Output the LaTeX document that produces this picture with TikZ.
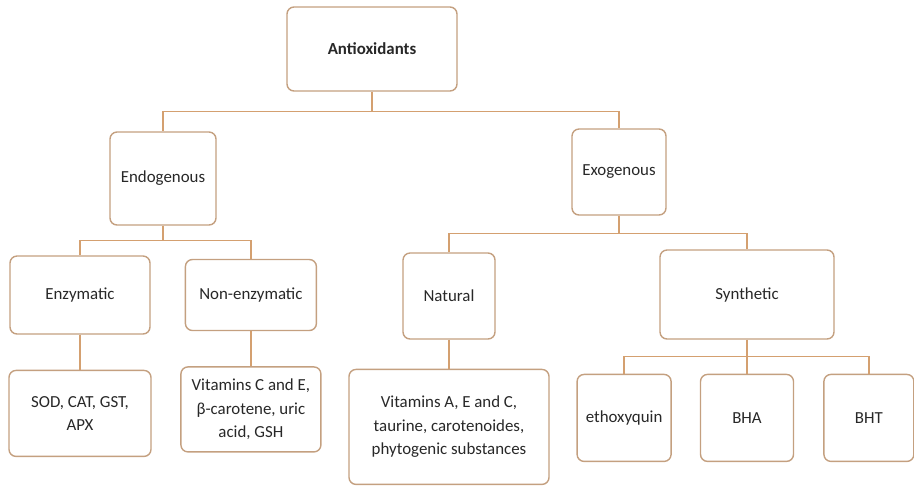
\documentclass[tikz,border=0pt]{standalone}
\usepackage{fontspec}
\setmainfont{Carlito}
\usepackage{xcolor}
\usepackage{tikz}
\usetikzlibrary{positioning}

\definecolor{boxline}{RGB}{196,160,128}
\definecolor{linkline}{RGB}{212,160,112}
\definecolor{boxtext}{RGB}{40,40,40}

\begin{document}
\begin{tikzpicture}[
    box/.style={rectangle, draw=boxline, line width=0.8pt, fill=white, rounded corners=4pt,
      text=boxtext, align=center, inner sep=2pt, font=\fontsize{9.6}{13.3}\selectfont},
    line/.style={draw=linkline, line width=0.8pt}
]
\useasboundingbox (0,0) rectangle (18.28,-9.72);

% Levels 0 and 1
\node[box, minimum width=3.4cm, minimum height=1.68cm, font=\fontsize{9.6}{13.3}\selectfont\bfseries] (root) at (7.44,-0.98) {Antioxidants};
\node[box, minimum width=2.12cm, minimum height=1.86cm] (endo) at (3.26,-3.57) {Endogenous};
\node[box, minimum width=1.88cm, minimum height=1.72cm] (exo) at (12.38,-3.44) {Exogenous};

% Level 2
\node[box, minimum width=2.8cm, minimum height=1.56cm] (enz) at (1.6,-5.9) {Enzymatic};
\node[box, minimum width=2.62cm, minimum height=1.42cm, right=0.68cm of enz] (nonenz) {Non-enzymatic};
\node[box, minimum width=1.84cm, minimum height=1.72cm] (nat) at (8.98,-5.92) {Natural};
\node[box, minimum width=3.48cm, minimum height=1.78cm] (syn) at (14.94,-5.89) {Synthetic};

% Level 3
\node[box, minimum width=2.84cm, minimum height=1.72cm, below=0.7cm of enz] (sod) {SOD, CAT, GST,\\APX};
\node[box, minimum width=2.8cm, minimum height=1.7cm, below=0.7cm of nonenz] (vitce) {Vitamins C and E,\\β-carotene, uric\\acid, GSH};
\node[box, minimum width=4cm, minimum height=2.3cm, below=0.58cm of nat] (vitaec) {Vitamins A, E and C,\\taurine, carotenoides,\\phytogenic substances};
\node[box, minimum width=1.86cm, minimum height=1.74cm, below=0.68cm of syn] (bha) {BHA};
\node[box, minimum width=1.88cm, minimum height=1.74cm, left=0.56cm of bha] (etho) {ethoxyquin};
\node[box, minimum width=1.8cm, minimum height=1.74cm, right=0.58cm of bha] (bht) {BHT};

% Junctions
\coordinate[below=0.39cm of root] (rootj);
\coordinate[below=0.3cm of endo] (endoj);
\coordinate[below=0.36cm of exo] (exoj);
\coordinate[below=0.34cm of syn] (synj);

% Connections
\draw[line] (root) -- (rootj) -| (endo);
\draw[line] (rootj) -| (exo);
\draw[line] (endo) -- (endoj) -| (enz);
\draw[line] (endoj) -| (nonenz);
\draw[line] (exo) -- (exoj) -| (nat);
\draw[line] (exoj) -| (syn);
\draw[line] (enz) -- (sod);
\draw[line] (nonenz) -- (vitce);
\draw[line] (nat) -- (vitaec);
\draw[line] (syn) -- (synj) -| (etho);
\draw[line] (synj) -- (bha);
\draw[line] (synj) -| (bht);

\end{tikzpicture}
\end{document}
